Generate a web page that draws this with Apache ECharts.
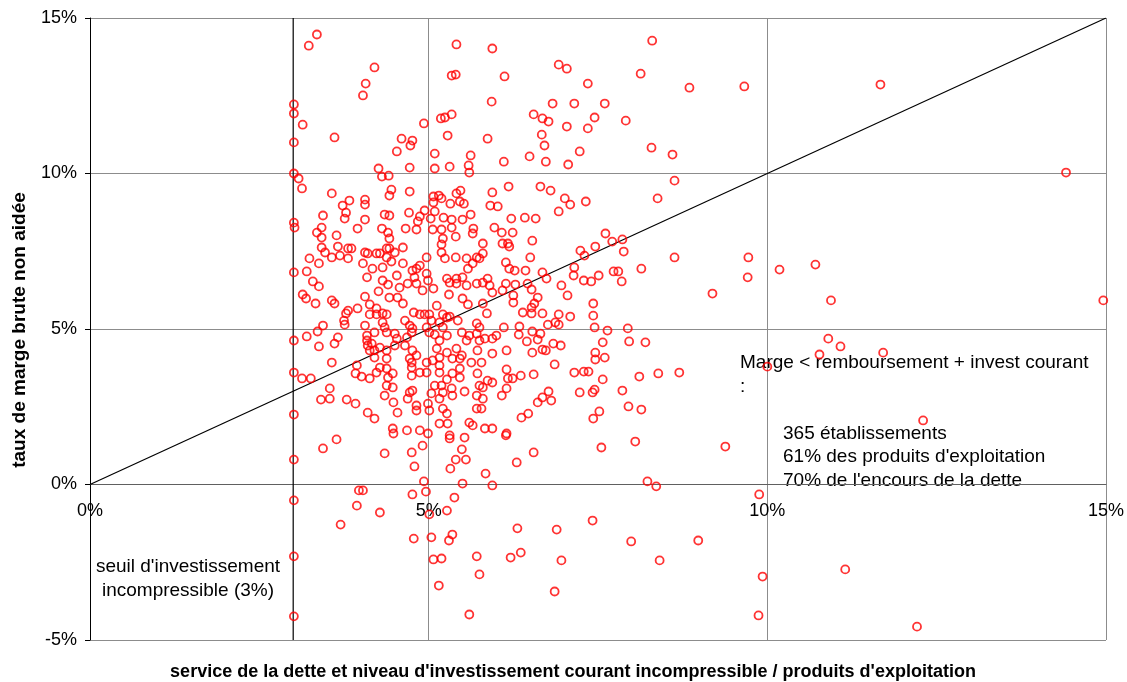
<!DOCTYPE html>
<html>
<head>
    <meta charset="utf-8">
    <script type="text/javascript" src="https://cdn.jsdelivr.net/npm/echarts@6/dist/echarts.min.js"></script>
</head>
<body style="margin:0;background:#fff;">
<div id="main" style="width:1127px;height:682px;"></div>

<script type="text/javascript">
    // points : [service de la dette %, taux de marge %]
    var ptsHautGauche = [
        [3.35,14.47],[3.23,14.11],[4.20,13.41],[4.07,12.89],[4.03,12.51],[3.01,12.22],[3.01,11.93],[3.14,11.57],
        [3.61,11.16],[3.01,11.00],[5.41,14.15],[5.94,14.02],[5.34,13.15],[5.40,13.18],[5.93,12.31],[4.93,11.61],
        [5.18,11.77],[5.24,11.80],[5.34,11.90],[5.28,11.22],[5.87,11.12],[4.60,11.12],[4.76,11.06],[4.73,10.90],
        [4.53,10.71],[5.09,10.64],[5.62,10.58],[4.72,10.19],[5.09,10.16],[5.31,10.22],[5.59,10.26],[5.60,10.03],
        [4.26,10.16],[4.31,9.90],[4.41,9.93],[3.01,10.00],[3.08,9.84],[3.13,9.52],[3.57,9.36],[4.45,9.48],
        [4.42,9.29],[4.72,9.42],[3.83,9.13],[3.73,8.97],[3.78,8.74],[3.76,8.55],[4.06,9.16],[4.06,9.00],
        [4.06,8.52],[3.44,8.65],[4.35,8.68],[4.42,8.65],[4.71,8.74],[5.07,9.26],[5.15,9.29],[5.19,9.20],
        [5.07,9.07],[5.09,8.78],[5.03,8.55],[4.94,8.81],[4.87,8.62],[4.84,8.46],[5.41,9.36],[5.47,9.45],
        [5.46,9.10],[5.52,9.03],[5.32,9.03],[5.22,8.58],[5.34,8.52],[5.50,8.52],[5.62,8.68],[5.94,9.39],
        [5.91,8.97],[6.02,8.94],[3.01,8.42],[3.42,8.26]
    ];
    var ptsHautDroite = [
        [8.30,14.27],[6.12,13.12],[6.92,13.50],[7.04,13.37],[8.13,13.21],[7.35,12.89],[8.85,12.76],[6.83,12.25],
        [7.15,12.25],[7.60,12.25],[6.55,11.90],[6.68,11.77],[6.77,11.67],[7.45,11.80],[7.91,11.70],[7.04,11.51],
        [7.35,11.45],[6.67,11.25],[6.71,10.90],[8.29,10.83],[8.60,10.61],[6.11,10.38],[6.49,10.55],[6.73,10.38],
        [7.06,10.29],[7.23,10.71],[8.63,9.77],[8.38,9.20],[6.18,9.58],[6.65,9.58],[6.80,9.45],[7.01,9.20],
        [7.09,9.00],[7.32,9.10],[6.92,8.78],[6.22,8.55],[6.42,8.58],[6.58,8.55]
    ];
    var ptsCentreGauche = [
        [3.02,8.26],[3.35,8.10],[3.42,7.94],[3.64,8.01],[3.95,8.23],[4.31,8.23],[4.40,8.10],[4.42,7.91],
        [4.66,8.23],[4.82,8.20],[5.06,8.20],[5.19,8.20],[5.34,8.26],[5.40,7.97],[5.66,8.23],[5.65,8.07],
        [5.21,7.91],[5.19,7.72],[5.80,7.75],[5.97,8.26],[3.42,7.62],[3.47,7.46],[3.66,7.65],[3.57,7.30],
        [3.69,7.36],[3.81,7.59],[3.86,7.59],[3.81,7.27],[3.24,7.27],[3.38,7.11],[4.06,7.46],[4.10,7.43],
        [4.23,7.43],[4.28,7.43],[4.38,7.59],[4.42,7.59],[4.50,7.46],[4.62,7.62],[4.38,7.30],[4.45,7.17],
        [4.62,7.11],[4.03,7.11],[4.32,6.98],[4.17,6.94],[4.97,7.30],[5.19,7.46],[5.24,7.27],[5.40,7.30],
        [5.56,7.27],[5.71,7.30],[5.80,7.43],[5.75,7.27],[3.01,6.82],[3.20,6.85],[4.82,6.94],[4.76,6.88],
        [4.87,7.04],[4.79,6.66],[4.97,6.78],[4.99,6.56],[5.07,6.30],[4.91,6.24],[4.69,6.46],[4.82,6.46],
        [4.57,6.33],[4.53,6.72],[4.32,6.56],[4.40,6.43],[4.09,6.66],[3.29,6.53],[3.38,6.37],[5.27,6.62],
        [5.31,6.49],[5.41,6.62],[5.50,6.66],[5.41,6.46],[5.56,6.40],[5.71,6.46],[5.80,6.49],[5.87,6.62],
        [5.90,6.40],[5.58,6.94],[5.65,7.11],[5.94,6.17],[4.26,6.21],[4.42,6.01],[4.54,6.01],[4.62,5.82],
        [4.06,6.04],[4.13,5.79],[4.23,5.66],[3.14,6.11],[3.19,5.98],[3.33,5.82],[3.57,5.92],[3.61,5.82],
        [5.30,6.11],[5.50,5.98],[5.58,5.79],[5.80,5.82],[5.12,5.75],[5.21,5.47],[5.31,5.40],[5.43,5.27],
        [5.86,5.50],[3.95,5.66],[3.81,5.59],[3.78,5.50],[3.75,5.27],[3.76,5.14],[4.06,5.11],[4.13,5.47],
        [4.23,5.47],[4.32,5.50],[4.38,5.47],[4.32,5.21],[4.35,5.05],[4.38,4.89],[4.50,4.85],[4.20,4.89],
        [4.09,4.79],[4.65,5.27],[4.72,5.11],[4.76,5.02],[4.75,4.89],[4.68,4.73],[4.78,5.53],[4.87,5.47],
        [4.94,5.47],[5.01,5.47],[5.04,5.27],[5.16,5.21],[5.27,5.37],[5.21,5.05],[4.97,5.05],[5.01,4.89],
        [5.09,4.82],[5.16,4.63],[5.27,4.79],[5.49,4.89],[5.71,5.18],[5.75,5.05],[5.71,4.85],[5.60,4.79],
        [5.56,4.63],[5.75,4.63],[5.83,4.69],[5.94,4.69],[6.00,4.79],[3.44,5.11],[3.36,4.92],[3.20,4.76],
        [3.01,4.63],[3.38,4.44],[3.61,4.53],[3.66,4.73],[4.09,4.63],[4.10,4.47],[4.13,4.31],[4.16,4.53],
        [4.20,4.31],[4.20,4.08],[4.28,4.40],[4.38,4.31],[4.38,4.05],[4.50,4.47],[4.53,4.69],[4.65,4.47],
        [4.76,4.31],[4.82,4.15],[4.75,3.92],[4.72,4.05],[4.97,3.92],[5.06,3.99],[5.12,4.37],[5.16,4.08],
        [5.27,4.24],[5.41,4.37],[5.35,4.05],[5.46,4.05],[5.49,4.15],[5.72,4.31],[5.94,4.21],[5.78,3.92],
        [5.63,3.92],[3.57,3.92],[3.94,3.83],[3.01,3.60],[3.13,3.41],[3.26,3.41],[3.92,3.57],[4.01,3.47],
        [4.13,3.41],[4.23,3.60],[4.28,3.76],[4.38,3.73],[4.40,3.44],[4.47,3.57],[4.38,3.18],[4.47,3.12],
        [4.35,2.86],[4.75,3.76],[4.75,3.50],[4.87,3.60],[4.97,3.60],[5.16,3.83],[5.16,3.60],[5.27,3.38],
        [5.35,3.57],[5.46,3.73],[5.46,3.44],[5.72,3.57],[5.87,3.34],[5.94,3.28],[5.75,3.18],[5.80,3.12],
        [5.09,3.18],[5.19,3.18],[5.21,2.96],[5.34,3.09],[5.35,2.86],[5.16,2.76],[5.04,2.93],[4.76,3.02],
        [4.72,2.96],[4.69,2.76],[3.54,3.09],[3.54,2.76],[3.41,2.73],[3.79,2.73],[3.92,2.60],[5.53,2.99],
        [5.71,2.86],[5.80,2.76],[3.01,2.25],[4.10,2.31],[4.20,2.12],[4.48,2.64],[4.54,2.31],[4.82,2.54],
        [4.82,2.38],[4.99,2.60],[5.01,2.38],[5.21,2.44],[5.27,2.28],[5.28,1.96],[5.16,1.96],[5.71,2.44],
        [5.78,2.44],[5.60,1.99],[5.65,1.90],[5.83,1.80],[5.94,1.80],[4.47,1.80],[4.68,1.74],[4.87,1.74],
        [4.99,1.64],[5.31,1.58]
    ];
    var ptsCentreDroite = [
        [6.24,8.10],[6.08,8.10],[6.09,7.75],[6.17,7.75],[6.19,7.65],[6.53,7.84],[7.61,8.07],[7.71,7.81],
        [7.86,7.88],[7.88,7.49],[7.24,7.52],[7.30,7.36],[7.46,7.65],[6.50,7.30],[6.14,7.14],[6.19,6.94],
        [6.27,6.88],[6.43,6.88],[6.68,6.82],[6.74,6.62],[7.15,6.98],[7.14,6.72],[7.29,6.56],[7.40,6.53],
        [7.51,6.72],[7.73,6.85],[7.80,6.85],[7.85,6.53],[8.14,6.94],[8.63,7.30],[9.19,6.14],[6.14,6.46],
        [6.28,6.43],[6.46,6.46],[6.52,6.27],[6.09,6.24],[6.25,6.08],[6.25,5.85],[6.61,6.01],[6.56,5.82],
        [6.52,5.69],[6.39,5.53],[6.52,5.50],[6.68,5.50],[6.92,5.47],[7.09,5.40],[7.05,6.08],[6.96,6.40],
        [7.43,5.82],[7.43,5.43],[7.45,5.05],[6.76,5.14],[6.87,5.21],[6.92,5.14],[6.34,5.08],[6.11,5.05],
        [6.33,4.82],[6.53,4.92],[6.65,4.85],[6.45,4.60],[6.61,4.66],[6.84,4.53],[6.95,4.47],[7.64,4.95],
        [7.94,5.02],[7.57,4.57],[7.96,4.60],[8.20,4.57],[6.15,4.31],[6.53,4.24],[6.68,4.34],[6.73,4.31],
        [7.46,4.24],[7.46,4.02],[7.60,4.08],[6.86,3.86],[6.15,3.70],[6.17,3.41],[6.24,3.41],[6.36,3.50],
        [6.55,3.54],[7.15,3.60],[7.29,3.63],[7.36,3.63],[7.57,3.38],[8.11,3.47],[8.39,3.57],[8.70,3.60],
        [6.15,3.09],[6.08,2.86],[6.77,2.99],[6.68,2.80],[6.81,2.70],[6.61,2.64],[7.23,2.96],[7.42,2.96],
        [7.45,3.05],[7.86,3.02],[7.95,2.51],[8.14,2.41],[6.47,2.28],[6.37,2.15],[7.52,2.35],[7.43,2.12],
        [6.15,1.64]
    ];
    var ptsBas = [
        [3.64,1.45],[3.44,1.16],[3.01,0.80],[4.35,1.00],[4.75,1.03],[4.91,1.25],[4.79,0.58],[5.31,1.48],
        [5.53,1.51],[5.49,1.13],[5.40,0.80],[5.55,0.80],[5.32,0.51],[5.84,0.35],[4.93,0.10],[4.96,-0.23],
        [4.76,-0.32],[5.50,0.03],[5.94,-0.03],[5.38,-0.42],[5.27,-0.84],[5.01,-0.96],[3.97,-0.19],[4.03,-0.19],
        [3.94,-0.68],[4.28,-0.90],[3.70,-1.29],[3.01,-0.51],[3.01,-2.31],[3.01,-4.24],[4.78,-1.74],[5.04,-1.70],
        [5.30,-1.80],[5.35,-1.61],[5.07,-2.41],[5.19,-2.38],[5.71,-2.31],[5.75,-2.89],[5.15,-3.25],[5.60,-4.18],
        [4.48,1.64],[6.14,1.58],[6.55,1.03],[6.30,0.71],[7.55,1.19],[8.05,1.38],[8.23,0.10],[8.36,-0.06],
        [7.42,-1.16],[6.31,-1.41],[6.89,-1.45],[7.99,-1.83],[8.98,-1.80],[6.21,-2.35],[6.36,-2.19],[6.96,-2.44],
        [8.41,-2.44],[6.86,-3.44]
    ];
    var ptsDroite = [
        [9.66,12.80],[11.67,12.86],[14.41,10.03],[9.72,7.30],[9.71,6.66],[10.18,6.91],[10.71,7.07],[10.94,5.92],
        [14.96,5.92],[10.90,4.69],[11.08,4.44],[10.77,4.18],[11.71,4.24],[10.00,3.79],[9.38,1.22],[12.30,2.06],
        [9.88,-0.32],[11.15,-2.73],[9.93,-2.96],[9.87,-4.21],[12.21,-4.57]
    ];

    // droites de référence
    var diagonale = [[0, 0], [15, 15]];      // marge = remboursement + invest courant
    var seuil = [[3, -5], [3, 15]];          // seuil d'investissement incompressible (3%)

    var xTicks = { min: 0, max: 15, interval: 5 };
    var yTicks = { min: -5, max: 15, interval: 5 };

    var points = [].concat(ptsHautGauche, ptsHautDroite, ptsCentreGauche, ptsCentreDroite, ptsBas, ptsDroite);

    var police = 'Liberation Sans, Arial, sans-serif';
    var myChart = echarts.init(document.getElementById('main'));

    function texte(x, y, txt, align) {
        return {
            type: 'text', x: x, y: y,
            style: { text: txt, font: '19px ' + police, fill: '#000',
                textAlign: align || 'left', textVerticalAlign: 'middle' }
        };
    }

    var option = {
        animation: false,
        backgroundColor: '#fff',
        textStyle: { fontFamily: police },
        grid: { left: 90, top: 18, right: 20, bottom: 42, containLabel: false },
        xAxis: {
            type: 'value',
            min: xTicks.min, max: xTicks.max, interval: xTicks.interval,
            // l'axe des x passe par 0% (offset pour le ramener au zéro de l'axe y)
            offset: -156,
            axisLine: { onZero: true, lineStyle: { color: '#606060', width: 1 } },
            axisTick: { show: false },
            axisLabel: { formatter: '{value}%', color: '#000', fontSize: 18, margin: 18, fontFamily: police },
            splitLine: { show: true, lineStyle: { color: '#8c8c8c', width: 1 } }
        },
        yAxis: {
            type: 'value',
            min: yTicks.min, max: yTicks.max, interval: yTicks.interval,
            axisLine: { show: true, onZero: false, lineStyle: { color: '#000', width: 1 } },
            axisTick: { show: true, inside: false, length: 5, lineStyle: { color: '#000' } },
            axisLabel: { formatter: '{value}%', color: '#000', fontSize: 18, margin: 13, fontFamily: police },
            splitLine: { show: true, lineStyle: { color: '#8c8c8c', width: 1 } }
        },
        graphic: [
            {
                type: 'text', x: 573, y: 672,
                style: { text: "service de la dette et niveau d'investissement courant incompressible / produits d'exploitation",
                    font: 'bold 18px ' + police, fill: '#000', textAlign: 'center', textVerticalAlign: 'middle' }
            },
            {
                type: 'text', x: 20, y: 330, rotation: Math.PI / 2,
                style: { text: 'taux de marge brute non aidée',
                    font: 'bold 19px ' + police, fill: '#000', textAlign: 'center', textVerticalAlign: 'middle' }
            },
            texte(740, 363, 'Marge < remboursement + invest courant'),
            texte(740, 387, ':'),
            texte(783, 434, '365 établissements'),
            texte(783, 457, "61% des produits d'exploitation"),
            texte(783, 481, "70% de l'encours de la dette"),
            texte(188, 567, "seuil d'investissement", 'center'),
            texte(188, 591, 'incompressible (3%)', 'center')
        ],
        series: [
            {
                type: 'line', data: diagonale, symbol: 'none', silent: true,
                lineStyle: { color: '#000', width: 1.2 }, z: 1
            },
            {
                type: 'line', data: seuil, symbol: 'none', silent: true,
                lineStyle: { color: '#000', width: 1.2 }, z: 1
            },
            {
                type: 'scatter', data: points, symbol: 'circle', symbolSize: 8,
                itemStyle: { color: 'rgba(255,255,255,0)', borderColor: '#ff0000', borderWidth: 1.8 },
                z: 3
            }
        ]
    };
    myChart.setOption(option);
</script>
</body>
</html>
